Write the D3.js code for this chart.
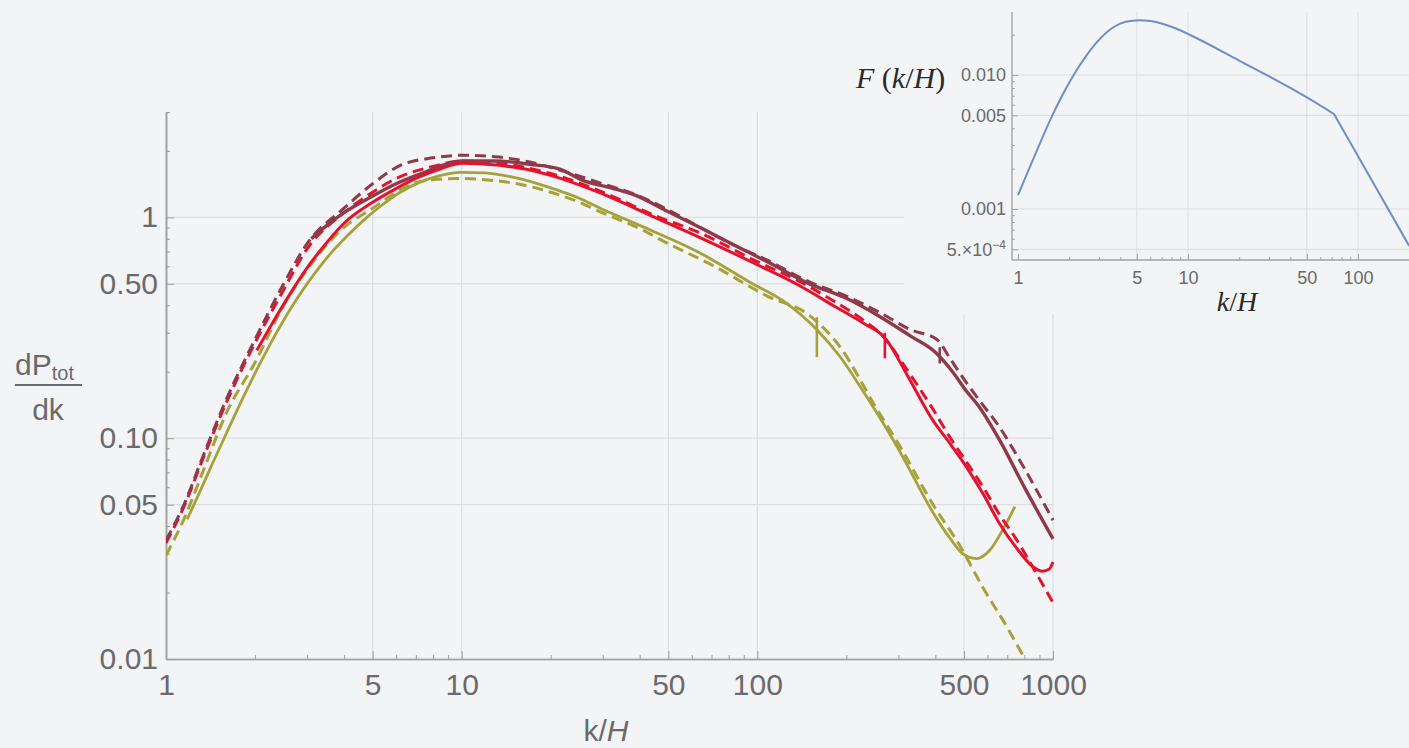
<!DOCTYPE html>
<html>
<head>
<meta charset="utf-8">
<script src="https://cdn.jsdelivr.net/npm/d3@7/dist/d3.min.js"></script>
<style>
  body { margin: 0; background: #f3f4f6; }
  svg { display: block; }
</style>
</head>
<body>
<div id="chart"></div>
<script>
// ---- Data ----

// Main plot, dark red (maroon) curves.
var maroonDashK = [1, 1.15, 1.33, 1.6, 2, 2.5, 3, 4, 5, 6.2, 8, 10, 13, 17, 22, 30, 38, 50, 64, 85, 108, 150, 200, 260, 330, 405, 450, 510, 560, 660, 800, 1000];
var maroonDashV = [0.0345, 0.05, 0.082, 0.15, 0.28, 0.5, 0.76, 1.1, 1.42, 1.72, 1.86, 1.91, 1.88, 1.78, 1.62, 1.42, 1.28, 1.08, 0.9, 0.74, 0.64, 0.51, 0.44, 0.37, 0.31, 0.28, 0.228, 0.178, 0.15, 0.112, 0.073, 0.0425];
var maroonSolidK = [3.1, 3.5, 4, 5, 6, 7.5, 10, 13, 17, 21.6, 25.7, 32, 38, 50, 64, 85, 108, 150, 200, 260, 330, 400, 460, 510, 560, 660, 800, 1000];
var maroonSolidV = [0.8, 0.92, 1.05, 1.25, 1.42, 1.6, 1.8, 1.8, 1.74, 1.65, 1.47, 1.36, 1.27, 1.06, 0.9, 0.74, 0.63, 0.5, 0.43, 0.355, 0.29, 0.245, 0.198, 0.163, 0.14, 0.098, 0.06, 0.035];

// Main plot, bright red curves.
var redDashK = [1, 1.15, 1.33, 1.6, 2, 2.5, 3, 4, 5, 6, 8, 10, 13, 15, 20, 30, 45, 64, 100, 140, 180, 230, 266, 320, 393, 450, 510, 580, 660, 750, 855, 1000];
var redDashV = [0.0335, 0.049, 0.08, 0.145, 0.27, 0.47, 0.72, 1.05, 1.3, 1.5, 1.7, 1.8, 1.76, 1.72, 1.58, 1.3, 1.02, 0.85, 0.63, 0.51, 0.42, 0.34, 0.29, 0.205, 0.135, 0.1, 0.078, 0.06, 0.045, 0.035, 0.026, 0.018];
var redSolidK = [2.03, 2.3, 2.6, 3, 3.5, 4, 5, 6, 7, 8.5, 10, 13.4, 17, 20, 29, 45, 64, 100, 139, 180, 230, 266, 275, 320, 393, 450, 510, 580, 660, 750, 855, 920, 970, 1000];
var redSolidV = [0.25, 0.335, 0.44, 0.59, 0.77, 0.94, 1.17, 1.35, 1.5, 1.66, 1.76, 1.72, 1.64, 1.55, 1.3, 1.0, 0.81, 0.61, 0.49, 0.4, 0.33, 0.29, 0.275, 0.195, 0.12, 0.094, 0.074, 0.056, 0.041, 0.032, 0.0262, 0.025, 0.0255, 0.0275];

// Main plot, olive curves.
var oliveDashK = [1, 1.15, 1.33, 1.6, 2, 2.5, 3, 4, 5, 6, 6.8, 8, 9.9, 12, 14.9, 20, 25, 29.4, 40, 49, 70, 108, 150, 190, 250, 302, 393, 488, 580, 700, 800];
var oliveDashV = [0.0295, 0.043, 0.07, 0.13, 0.22, 0.4, 0.58, 0.9, 1.1, 1.3, 1.42, 1.48, 1.5, 1.48, 1.43, 1.3, 1.17, 1.06, 0.89, 0.77, 0.61, 0.44, 0.36, 0.26, 0.14, 0.093, 0.05, 0.032, 0.021, 0.0139, 0.0101];
var oliveSolidK = [1.18, 1.3, 1.45, 1.61, 1.85, 2.08, 2.4, 2.69, 3.0, 3.32, 3.7, 4.09, 4.78, 5.3, 6.2, 7.2, 8.5, 9.9, 12, 14.9, 20, 25, 29.4, 40, 64, 94, 125, 159, 190, 230, 302, 393, 450, 495, 551, 610, 680, 743];
var oliveSolidV = [0.043, 0.057, 0.079, 0.107, 0.159, 0.218, 0.311, 0.402, 0.5, 0.6, 0.714, 0.822, 1.0, 1.12, 1.3, 1.44, 1.55, 1.6, 1.59, 1.52, 1.36, 1.22, 1.1, 0.92, 0.69, 0.51, 0.41, 0.31, 0.235, 0.16, 0.088, 0.046, 0.035, 0.03, 0.0285, 0.031, 0.039, 0.049];

// Small vertical glitches on the solid curves (olive, red, maroon).
var glitchK = [159, 270, 414];
var glitchTop = [0.353, 0.30, 0.258];
var glitchBottom = [0.233, 0.23, 0.218];

// Main plot ticks.
var xMajorTicks = [1, 5, 10, 50, 100, 500, 1000];
var xMajorLabels = ['1', '5', '10', '50', '100', '500', '1000'];
var xMinorTicks = [2, 3, 4, 6, 7, 8, 9, 20, 30, 40, 60, 70, 80, 90, 200, 300, 400, 600, 700, 800, 900];
var yMajorTicks = [0.01, 0.05, 0.1, 0.5, 1];
var yMajorLabels = ['0.01', '0.05', '0.10', '0.50', '1'];
var yMinorTicks = [0.02, 0.03, 0.04, 0.06, 0.07, 0.08, 0.09, 0.2, 0.3, 0.4, 0.6, 0.7, 0.8, 0.9, 2, 3];
var xGrid = [5, 10, 50, 100, 500, 1000];
var yGrid = [0.05, 0.1, 0.5, 1];

// Inset F(k/H) curve.
var insetK = [1, 1.25, 1.58, 1.85, 2.13, 2.5, 2.87, 3.3, 3.68, 4.3, 5.18, 6, 7.06, 8.5, 10.3, 20, 40, 60, 70, 72.4, 75, 85, 120, 200];
var insetV = [0.00127, 0.00248, 0.00489, 0.00731, 0.01004, 0.01372, 0.01723, 0.02066, 0.02291, 0.02496, 0.02566, 0.0253, 0.02416, 0.02222, 0.01988, 0.01281, 0.008, 0.00592, 0.00524, 0.00509, 0.0047, 0.00356, 0.00165, 0.00053];

// Inset ticks.
var insetXMajor = [1, 5, 10, 50, 100];
var insetXLabels = ['1', '5', '10', '50', '100'];
var insetXMinor = [2, 3, 4, 6, 7, 8, 9, 20, 30, 40, 60, 70, 80, 90, 200];
var insetYMajor = [0.0005, 0.001, 0.005, 0.01];
var insetYLabels = ['5.\u00d710', '0.001', '0.005', '0.010'];
var insetYMinor = [0.0006, 0.0007, 0.0008, 0.0009, 0.002, 0.003, 0.004, 0.006, 0.007, 0.008, 0.009, 0.02];

// ---- Drawing ----
var width = 1409,
    height = 748;

var bg = '#f3f4f6',
    gridColor = '#dcdde0',
    axisColor = '#a3a3a6',
    textColor = '#6a6a6c';

var svg = d3.select('#chart')
    .append('svg')
        .attr('width', width)
        .attr('height', height);

svg.append('rect')
    .attr('width', width)
    .attr('height', height)
    .attr('fill', bg);

// Main scales.
var x = d3.scaleLog().domain([1, 1000]).range([166, 1053]);
var y = d3.scaleLog().domain([0.01, 3]).range([659, 112]);

var main = svg.append('g').attr('class', 'main');

// Grid lines.
main.selectAll('.xgrid')
    .data(xGrid)
    .enter().append('line')
        .attr('x1', function(d){ return x(d); })
        .attr('x2', function(d){ return x(d); })
        .attr('y1', y(3))
        .attr('y2', y(0.01))
        .attr('stroke', gridColor)
        .attr('stroke-width', 1.2);

main.selectAll('.ygrid')
    .data(yGrid)
    .enter().append('line')
        .attr('x1', x(1))
        .attr('x2', x(1000))
        .attr('y1', function(d){ return y(d); })
        .attr('y2', function(d){ return y(d); })
        .attr('stroke', gridColor)
        .attr('stroke-width', 1.2);

// Axes (ticks point inward, Mathematica style).
function styleAxis(g){
    g.select('.domain').attr('stroke', axisColor).attr('stroke-width', 1.6);
    g.selectAll('.tick line').attr('stroke', axisColor).attr('stroke-width', 1.1);
    g.selectAll('text')
        .attr('fill', textColor)
        .style('font-family', '"Liberation Sans", Arial, sans-serif')
        .style('font-size', '30px');
}

main.append('g')
    .attr('transform', 'translate(0, ' + y(0.01) + ')')
    .call(d3.axisBottom(x).tickValues(xMinorTicks).tickSizeInner(-4).tickSizeOuter(0).tickFormat(''))
    .call(styleAxis);

main.append('g')
    .attr('transform', 'translate(0, ' + y(0.01) + ')')
    .call(d3.axisBottom(x).tickValues(xMajorTicks).tickSizeInner(-8).tickSizeOuter(0).tickPadding(15)
        .tickFormat(function(d, i){ return xMajorLabels[i]; }))
    .call(styleAxis);

main.append('g')
    .attr('transform', 'translate(' + x(1) + ', 0)')
    .call(d3.axisLeft(y).tickValues(yMinorTicks).tickSizeInner(-4).tickSizeOuter(0).tickFormat(''))
    .call(styleAxis);

main.append('g')
    .attr('transform', 'translate(' + x(1) + ', 0)')
    .call(d3.axisLeft(y).tickValues(yMajorTicks).tickSizeInner(-8).tickSizeOuter(0).tickPadding(8)
        .tickFormat(function(d, i){ return yMajorLabels[i]; }))
    .call(styleAxis);

// Axis titles.
var xTitle = main.append('text')
    .attr('x', 606)
    .attr('y', 741)
    .attr('text-anchor', 'middle')
    .attr('fill', textColor)
    .style('font-family', '"Liberation Sans", Arial, sans-serif')
    .style('font-size', '30px');
xTitle.append('tspan').text('k/');
xTitle.append('tspan').style('font-style', 'italic').text('H');

var yTitle = main.append('text')
    .attr('x', 15)
    .attr('y', 375)
    .attr('fill', textColor)
    .style('font-family', '"Liberation Sans", Arial, sans-serif')
    .style('font-size', '30px');
yTitle.append('tspan').text('dP');
yTitle.append('tspan').attr('dy', 5).style('font-size', '20px').text('tot');

main.append('line')
    .attr('x1', 15).attr('x2', 82)
    .attr('y1', 385).attr('y2', 385)
    .attr('stroke', textColor)
    .attr('stroke-width', 2.2);

main.append('text')
    .attr('x', 48)
    .attr('y', 420)
    .attr('text-anchor', 'middle')
    .attr('fill', textColor)
    .style('font-family', '"Liberation Sans", Arial, sans-serif')
    .style('font-size', '30px')
    .text('dk');

// Curves.
svg.append('clipPath')
    .attr('id', 'plot-clip')
    .append('rect')
        .attr('x', x(1))
        .attr('y', y(3))
        .attr('width', x(1000) - x(1) + 2)
        .attr('height', y(0.01) - y(3));

var maroon = '#8e3a4b',
    red = '#e3132d',
    olive = '#a6a23a';

var series = [
    {k: oliveDashK, v: oliveDashV, color: olive, dashed: true, w: 3},
    {k: oliveSolidK, v: oliveSolidV, color: olive, dashed: false, w: 2.8},
    {k: redDashK, v: redDashV, color: red, dashed: true, w: 3},
    {k: maroonDashK, v: maroonDashV, color: maroon, dashed: true, w: 3},
    {k: maroonSolidK, v: maroonSolidV, color: maroon, dashed: false, w: 3.4},
    {k: redSolidK, v: redSolidV, color: red, dashed: false, w: 3}
];

var line = d3.line()
    .x(function(d){ return x(d[0]); })
    .y(function(d){ return y(d[1]); })
    .curve(d3.curveMonotoneX);

var curves = main.append('g').attr('clip-path', 'url(#plot-clip)');

series.forEach(function(s){
    curves.append('path')
        .datum(d3.zip(s.k, s.v))
        .attr('d', line)
        .attr('fill', 'none')
        .attr('stroke', s.color)
        .attr('stroke-width', s.w)
        .attr('stroke-linejoin', 'round')
        .attr('stroke-dasharray', s.dashed ? '11,6' : null);
});

var glitchColors = [olive, red, maroon];
curves.selectAll('.glitch')
    .data(glitchK)
    .enter().append('line')
        .attr('x1', function(d){ return x(d); })
        .attr('x2', function(d){ return x(d); })
        .attr('y1', function(d, i){ return y(glitchTop[i]); })
        .attr('y2', function(d, i){ return y(glitchBottom[i]); })
        .attr('stroke', function(d, i){ return glitchColors[i]; })
        .attr('stroke-width', 2.6);

// ---- Inset ----
var inset = svg.append('g').attr('class', 'inset');

// The inset sits on top of the main plot and hides what is under it.
inset.append('rect')
    .attr('x', 904)
    .attr('y', 0)
    .attr('width', width - 904)
    .attr('height', 314)
    .attr('fill', bg);

var ix = d3.scaleLog().domain([1, 100]).range([1018, 1358]);
var iy = d3.scaleLog().domain([0.001, 0.01]).range([209, 75]);
var iLeft = 1012, iRight = width, iTop = 12, iBottom = 260;

inset.selectAll('.ixgrid')
    .data([5, 10, 50, 100])
    .enter().append('line')
        .attr('x1', function(d){ return ix(d); })
        .attr('x2', function(d){ return ix(d); })
        .attr('y1', iTop)
        .attr('y2', iBottom)
        .attr('stroke', gridColor)
        .attr('stroke-width', 1);

inset.selectAll('.iygrid')
    .data(insetYMajor)
    .enter().append('line')
        .attr('x1', iLeft)
        .attr('x2', iRight)
        .attr('y1', function(d){ return iy(d); })
        .attr('y2', function(d){ return iy(d); })
        .attr('stroke', gridColor)
        .attr('stroke-width', 1);

function styleInsetAxis(g){
    g.select('.domain').remove();
    g.selectAll('.tick line').attr('stroke', axisColor).attr('stroke-width', 1);
    g.selectAll('text')
        .attr('fill', textColor)
        .style('font-family', '"Liberation Sans", Arial, sans-serif')
        .style('font-size', '18px');
}

inset.append('g')
    .attr('transform', 'translate(0, ' + iBottom + ')')
    .call(d3.axisBottom(ix).tickValues(insetXMinor).tickSizeInner(-3).tickFormat(''))
    .call(styleInsetAxis);

inset.append('g')
    .attr('transform', 'translate(0, ' + iBottom + ')')
    .call(d3.axisBottom(ix).tickValues(insetXMajor).tickSizeInner(-6).tickPadding(11)
        .tickFormat(function(d, i){ return insetXLabels[i]; }))
    .call(styleInsetAxis);

inset.append('g')
    .attr('transform', 'translate(' + iLeft + ', 0)')
    .call(d3.axisLeft(iy).tickValues(insetYMinor).tickSizeInner(-3).tickFormat(''))
    .call(styleInsetAxis);

var iyMajor = inset.append('g')
    .attr('transform', 'translate(' + iLeft + ', 0)')
    .call(d3.axisLeft(iy).tickValues(insetYMajor).tickSizeInner(-6).tickPadding(6)
        .tickFormat(function(d, i){ return insetYLabels[i]; }))
    .call(styleInsetAxis);

// Superscript exponent on the 5.x10^-4 label.
iyMajor.selectAll('.tick text')
    .filter(function(d){ return d === 0.0005; })
    .append('tspan')
        .attr('dy', '-0.55em')
        .style('font-size', '12px')
        .text('\u22124');

// Inset axis lines.
inset.append('line')
    .attr('x1', iLeft).attr('x2', iLeft)
    .attr('y1', iTop).attr('y2', iBottom)
    .attr('stroke', axisColor).attr('stroke-width', 1.4);
inset.append('line')
    .attr('x1', iLeft).attr('x2', iRight)
    .attr('y1', iBottom).attr('y2', iBottom)
    .attr('stroke', axisColor).attr('stroke-width', 1.4);

var insetLine = d3.line()
    .x(function(d){ return ix(d[0]); })
    .y(function(d){ return iy(d[1]); })
    .curve(d3.curveMonotoneX);

inset.append('path')
    .datum(d3.zip(insetK, insetV))
    .attr('d', insetLine)
    .attr('fill', 'none')
    .attr('stroke', '#6d8ec6')
    .attr('stroke-width', 2);

// Inset titles in a serif, traditional-form look.
var fTitle = inset.append('text')
    .attr('x', 856)
    .attr('y', 88)
    .attr('fill', '#2a2a2a')
    .style('font-family', '"Liberation Serif", "DejaVu Serif", serif')
    .style('font-size', '30px');
fTitle.append('tspan').style('font-style', 'italic').text('F');
fTitle.append('tspan').text(' (');
fTitle.append('tspan').style('font-style', 'italic').text('k');
fTitle.append('tspan').text('/');
fTitle.append('tspan').style('font-style', 'italic').text('H');
fTitle.append('tspan').text(')');

var kTitle = inset.append('text')
    .attr('x', 1237)
    .attr('y', 311)
    .attr('text-anchor', 'middle')
    .attr('fill', '#2a2a2a')
    .style('font-family', '"Liberation Serif", "DejaVu Serif", serif')
    .style('font-size', '28px');
kTitle.append('tspan').style('font-style', 'italic').text('k');
kTitle.append('tspan').text('/');
kTitle.append('tspan').style('font-style', 'italic').text('H');
</script>
</body>
</html>
